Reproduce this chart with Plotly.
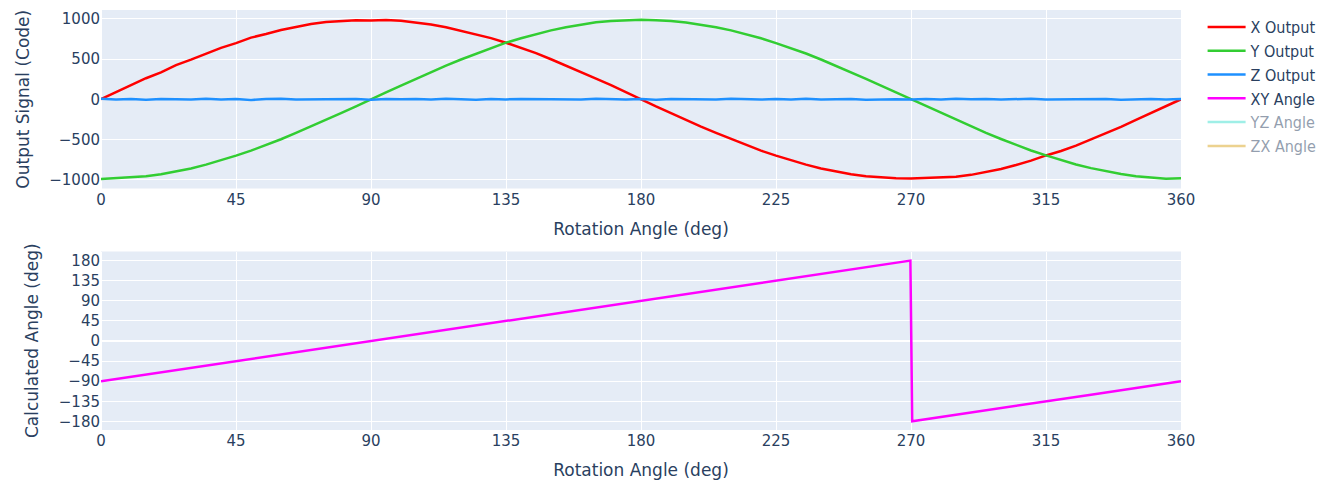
import plotly.graph_objects as go
from plotly.subplots import make_subplots

# Rotation angle (deg) for the sensor outputs
angle_deg = list(range(0, 361, 5))

x_output = [2, 88, 168, 262, 335, 425, 493, 570, 640, 700, 768, 812, 862, 900, 938, 962, 978, 985, 982,
            988, 978, 958, 930, 898, 855, 812, 762, 704, 640, 575, 498, 420, 338, 258, 175, 85, -5,
            -90, -172, -258, -340, -418, -495, -568, -640, -702, -760, -815, -862, -900, -935, -958,
            -975, -985, -988, -982, -978, -965, -942, -905, -868, -820, -765, -700, -645, -578, -500,
            -425, -345, -258, -172, -85, 0]

y_output = [-995, -985, -978, -960, -935, -902, -862, -815, -760, -702, -640, -572, -498, -420, -340, -258,
            -172, -88, 2, 85, 170, 255, 338, 418, 495, 568, 638, 705, 760, 812, 858, 898, 930, 958, 975,
            988, 992, 985, 975, 955, 930, 898, 858, 812, 760, 700, 638, 570, 495, 418, 338, 255, 170, 85,
            0, -88, -172, -258, -338, -420, -495, -570, -638, -700, -758, -812, -858, -898, -932, -958,
            -975, -990, -985]

z_output = [5, -3, 2, -5, 4, 0, -2, 6, -4, 3, -8, 2, 5, -3, 0, 4, -2, 3, -5, 2, -1, 4, -3, 5, 0, -6, 3,
            -2, 4, 1, -4, 2, -3, 6, 0, -2, 3, -5, 4, -1, 2, -4, 5, 0, -3, 3, -2, 6, -4, 1, 3, -5, 2, 0,
            -3, 4, -2, 5, -1, 3, -4, 2, 6, -3, 0, 4, -2, 3, -5, 1, 4, -2, 3]

# Calculated XY angle (deg)
angle_xy_x = [0, 15, 30, 45, 60, 75, 90, 105, 120, 135, 150, 165, 180, 195, 210, 225, 240, 255, 269.8,
              270.4, 285, 300, 315, 330, 345, 360]
angle_xy = [-90.3, -75.2, -60.1, -45.4, -29.8, -15.3, 0.2, 14.6, 30.3, 44.8, 60.2, 74.7, 90.1, 105.2,
            119.8, 135.3, 150.1, 165.4, 179.6, -179.4, -165.2, -150.3, -134.8, -120.2, -104.9, -90.1]

x_ticks = [0, 45, 90, 135, 180, 225, 270, 315, 360]
angle_ticks = [180, 135, 90, 45, 0, -45, -90, -135, -180]

fig = make_subplots(rows=2, cols=1, vertical_spacing=0.15)

fig.add_trace(go.Scatter(x=angle_deg, y=x_output, mode="lines", name="X Output",
                         line=dict(color="#FF0000", width=2.5)), row=1, col=1)
fig.add_trace(go.Scatter(x=angle_deg, y=y_output, mode="lines", name="Y Output",
                         line=dict(color="#32CD32", width=2.5)), row=1, col=1)
fig.add_trace(go.Scatter(x=angle_deg, y=z_output, mode="lines", name="Z Output",
                         line=dict(color="#1E90FF", width=2.5)), row=1, col=1)
fig.add_trace(go.Scatter(x=angle_xy_x, y=angle_xy, mode="lines", name="XY Angle",
                         line=dict(color="#FF00FF", width=2.5)), row=2, col=1)
fig.add_trace(go.Scatter(x=angle_xy_x, y=angle_xy, mode="lines", name="YZ Angle", visible="legendonly",
                         line=dict(color="#40E0D0", width=2.5)), row=2, col=1)
fig.add_trace(go.Scatter(x=angle_xy_x, y=angle_xy, mode="lines", name="ZX Angle", visible="legendonly",
                         line=dict(color="#DAA520", width=2.5)), row=2, col=1)

tick_font = dict(size=15)
title_font = dict(size=17)
for r in (1, 2):
    fig.update_xaxes(range=[0, 360], tickvals=x_ticks, title_text="Rotation Angle (deg)",
                     tickfont=tick_font, title_font=title_font, row=r, col=1)
fig.update_yaxes(range=[-1112, 1112], dtick=500, title_text="Output Signal (Code)",
                 tickfont=tick_font, title_font=title_font, row=1, col=1)
fig.update_yaxes(range=[-199, 200], tickvals=angle_ticks, title_text="Calculated Angle (deg)",
                 tickfont=tick_font, title_font=title_font, row=2, col=1)

fig.update_layout(
    width=1326, height=481,
    template="plotly",
    font=dict(family="Verdana, DejaVu Sans, sans-serif", size=14),
    margin=dict(l=93, r=153, t=2, b=59),
    legend=dict(font=dict(size=16, family="DejaVu Sans Condensed, DejaVu Sans, sans-serif"), itemwidth=38),
)

fig.write_html("out.html")
